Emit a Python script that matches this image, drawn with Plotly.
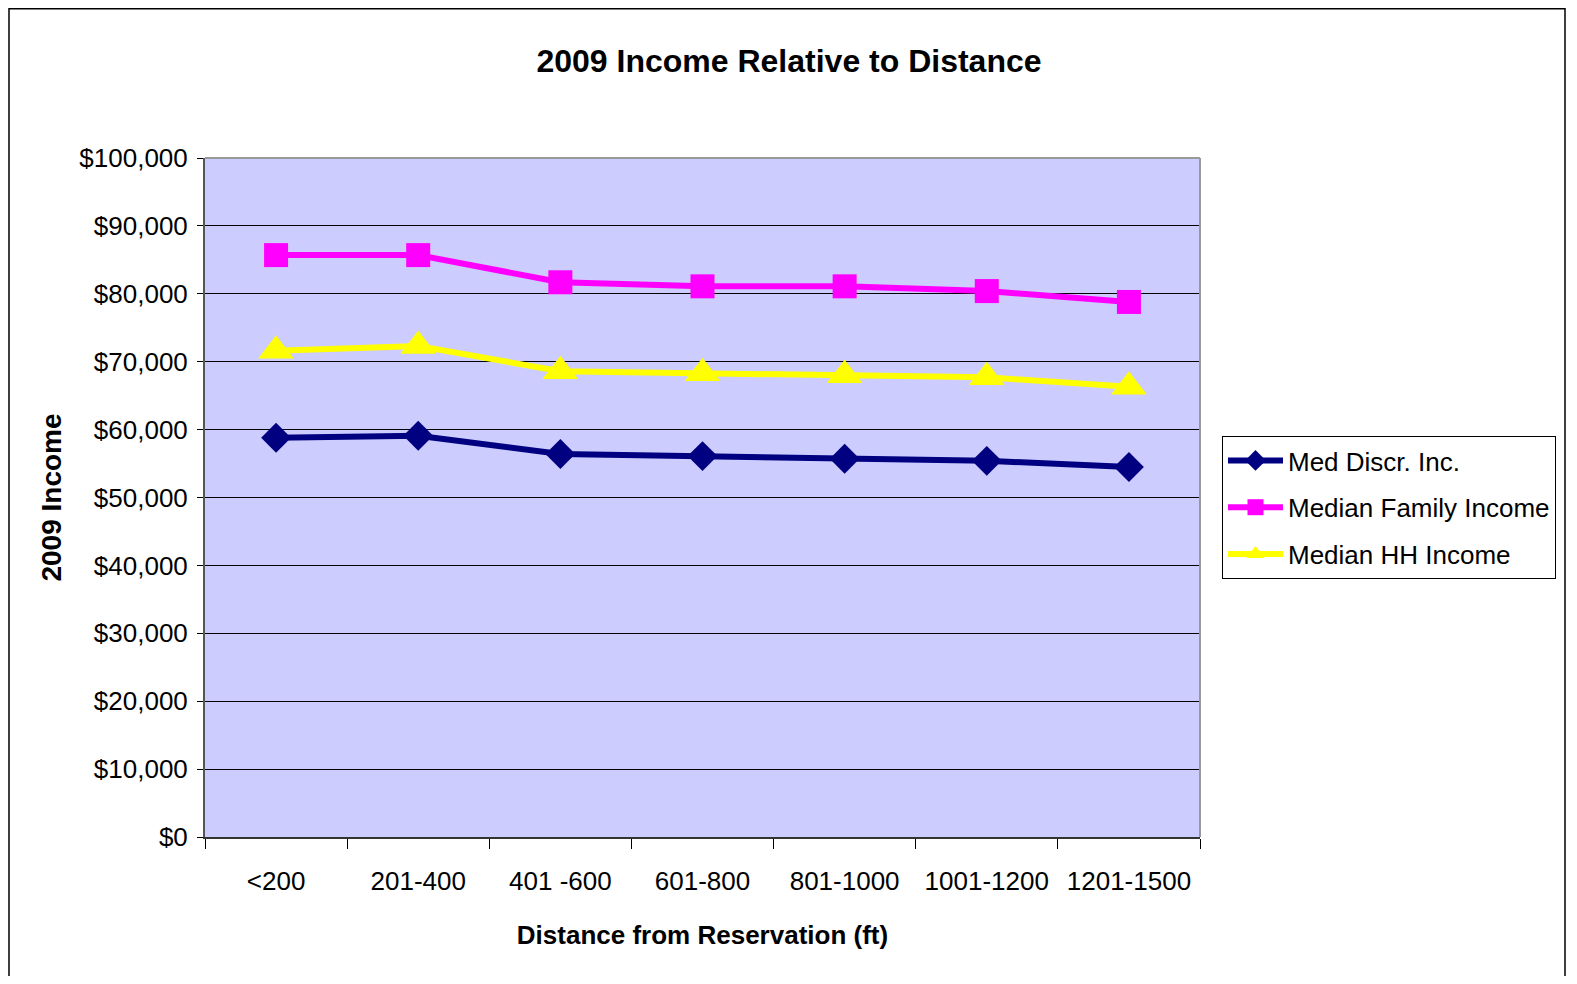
import plotly.graph_objects as go

categories = ["<200", "201-400", "401 -600", "601-800", "801-1000", "1001-1200", "1201-1500"]
med_discr_inc = [58800, 59100, 56400, 56100, 55700, 55400, 54500]
median_family_income = [85700, 85700, 81700, 81100, 81100, 80400, 78800]
median_hh_income = [71600, 72300, 68600, 68300, 68000, 67700, 66300]

FONT = "Liberation Sans, Arial, sans-serif"

# the page body has an 8px margin, so the figure is drawn 8px smaller / offset
OFF = 8
W, H = 1577 - 2 * OFF, 984 - 2 * OFF
# plot area on the page: x 205..1200, y 158..837
L, R, T, B = 205 - OFF, 1200 - OFF, 158 - OFF, 837 - OFF


def px_x(p):
    return (p - OFF - L) / (R - L)


def px_y(p):
    return (B - (p - OFF)) / (B - T)


fig = go.Figure()
fig.add_trace(go.Scatter(
    x=categories, y=med_discr_inc, name="Med Discr. Inc.", mode="lines+markers",
    legendgroup="a",
    line={"color": "#000080", "width": 6},
    marker={"symbol": "diamond", "size": 23, "color": "#000080"},
))
fig.add_trace(go.Scatter(
    x=categories, y=median_family_income, name="Median Family Income", mode="lines+markers",
    legendgroup="b",
    line={"color": "#FF00FF", "width": 6},
    marker={"symbol": "square", "size": 24, "color": "#FF00FF"},
))
fig.add_trace(go.Scatter(
    x=categories, y=median_hh_income, name="Median HH Income", mode="lines+markers",
    legendgroup="c",
    line={"color": "#FFFF00", "width": 6},
    marker={"symbol": "triangle-up", "size": 31, "color": "#FFFF00"},
))

fig.update_layout(
    width=W, height=H,
    margin={"l": L, "r": W - R, "t": T, "b": H - B},
    paper_bgcolor="white",
    plot_bgcolor="#CCCCFF",
    font={"family": FONT, "size": 26, "color": "black"},
    title={
        "text": "<b>2009 Income Relative to Distance</b>",
        "x": (789 - OFF) / W, "xanchor": "center", "xref": "container",
        "y": 1 - (61 - OFF) / H, "yanchor": "middle", "yref": "container",
        "font": {"size": 32, "family": FONT},
    },
    legend={
        "x": px_x(1222), "y": px_y(436), "xanchor": "left", "yanchor": "top",
        "bordercolor": "black", "borderwidth": 1, "bgcolor": "white",
        "font": {"size": 26, "family": FONT},
        "itemwidth": 55, "tracegroupgap": 10,
    },
    showlegend=True,
)

fig.update_xaxes(
    type="category", range=[-0.5, 6.5],
    tickson="boundaries", ticks="outside", ticklen=10, tickcolor="black", tickwidth=1,
    showgrid=False, showline=True, linecolor="#333333", linewidth=2, mirror=False,
    tickfont={"size": 26}, ticklabelstandoff=20,
    title={"text": "<b>Distance from Reservation (ft)</b>", "font": {"size": 26}, "standoff": 31},
)
fig.update_yaxes(
    range=[0, 100000], dtick=10000, tickformat="$,.0f",
    ticks="outside", ticklen=6, tickcolor="black", ticklabelstandoff=4,
    showgrid=True, gridcolor="black", gridwidth=1.3,
    showline=True, linecolor="#555555", linewidth=2,
    zeroline=False, tickfont={"size": 26},
    title={"text": "<b>2009 Income</b>", "font": {"size": 28}, "standoff": 10},
)

# grey border right/top of plot area and outer chart frame
fig.add_shape(type="line", xref="paper", yref="paper", x0=1, x1=1, y0=0, y1=1,
              line={"color": "#999999", "width": 2})
fig.add_shape(type="line", xref="paper", yref="paper", x0=0, x1=1, y0=1, y1=1,
              line={"color": "#999999", "width": 2})
fig.add_shape(type="rect", xref="paper", yref="paper",
              x0=px_x(9), x1=px_x(1565), y0=px_y(1000), y1=px_y(8.7),
              line={"color": "black", "width": 1.5}, layer="below")

fig.write_html("out.html")
